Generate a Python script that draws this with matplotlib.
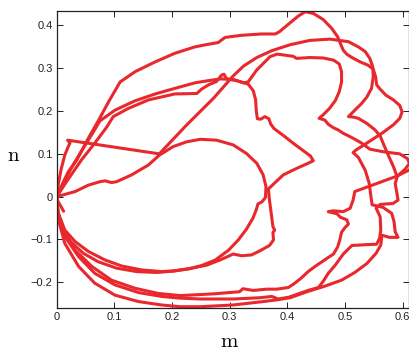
import matplotlib
matplotlib.use("Agg")
import matplotlib.pyplot as plt

# ---- data (m, n) ----
inner_m = [0, 0.032, 0.055, 0.075, 0.084, 0.095, 0.104, 0.130, 0.159, 0.178, 0.202, 0.225, 0.249, 0.277, 0.306,
           0.329, 0.347, 0.358, 0.363, 0.362, 0.356, 0.349, 0.346, 0.340, 0.329, 0.315, 0.298, 0.275, 0.251, 0.228,
           0.205, 0.182, 0.147, 0.113, 0.084, 0.055, 0.032, 0.014, 0.003, 0]
inner_n = [0, 0.012, 0.027, 0.035, 0.037, 0.033, 0.035, 0.051, 0.074, 0.097, 0.117, 0.128, 0.134, 0.132, 0.121,
           0.101, 0.078, 0.051, 0.023, -0.002, -0.012, -0.017, -0.031, -0.051, -0.076, -0.101, -0.125, -0.148, -0.161, -0.169,
           -0.173, -0.175, -0.171, -0.162, -0.148, -0.128, -0.105, -0.078, -0.039, -0.008]

loop_b_m = [0, 0.003, 0.008, 0.014, 0.020, 0.023, 0.019, 0.178, 0.225, 0.272, 0.306, 0.324, 0.347, 0.373, 0.405,
            0.439, 0.474, 0.506, 0.523, 0.535, 0.543, 0.548, 0.549, 0.546, 0.538, 0.529, 0.517, 0.506, 0.514, 0.523,
            0.538, 0.552, 0.561, 0.566, 0.575, 0.584, 0.590, 0.517, 0.514, 0.509, 0.497, 0.480, 0.471, 0.486, 0.492,
            0.503, 0.506, 0.500, 0.494, 0.491, 0.487, 0.480, 0.471, 0.460, 0.448, 0.436, 0.425, 0.413, 0.402, 0.382,
            0.364, 0.341, 0.323, 0.317, 0.272, 0.214, 0.176, 0.136, 0.095, 0.061, 0.032, 0.012, 0.001, 0]
loop_b_n = [0, 0.031, 0.066, 0.097, 0.117, 0.125, 0.132, 0.100, 0.167, 0.230, 0.282, 0.305, 0.325, 0.341, 0.355,
            0.365, 0.368, 0.362, 0.350, 0.339, 0.323, 0.304, 0.280, 0.253, 0.233, 0.218, 0.202, 0.187, 0.186, 0.183,
            0.171, 0.156, 0.142, 0.125, 0.097, 0.070, 0.048, 0.012, -0.008, -0.027, -0.035, -0.033, -0.035, -0.040, -0.048,
            -0.054, -0.064, -0.072, -0.083, -0.101, -0.118, -0.134, -0.142, -0.152, -0.163, -0.175, -0.189, -0.202, -0.212, -0.216,
            -0.216, -0.219, -0.215, -0.222, -0.227, -0.231, -0.226, -0.214, -0.195, -0.163, -0.125, -0.078, -0.031, 0]

loop_c_m = [0, 0.009, 0.020, 0.035, 0.053, 0.072, 0.091, 0.110, 0.136, 0.171, 0.205, 0.240, 0.263, 0.280, 0.292,
            0.321, 0.355, 0.379, 0.386, 0.402, 0.419, 0.431, 0.445, 0.462, 0.477, 0.487, 0.492, 0.497, 0.503, 0.512,
            0.526, 0.540, 0.549, 0.553, 0.555, 0.561, 0.571, 0.584, 0.595, 0.599, 0.595, 0.584, 0.566, 0.549, 0.532,
            0.519, 0.514, 0.523, 0.535, 0.542, 0.545, 0.547, 0.566, 0.581, 0.585, 0.587, 0.592, 0.577, 0.564, 0.562,
            0.554, 0.538, 0.517, 0.494, 0.465, 0.434, 0.405, 0.382, 0.358, 0.306, 0.249, 0.214, 0.182, 0.142, 0.101,
            0.066, 0.038, 0.014, 0.003, 0]
loop_c_n = [0, 0.027, 0.058, 0.086, 0.132, 0.177, 0.224, 0.268, 0.292, 0.315, 0.335, 0.350, 0.356, 0.360, 0.372,
            0.377, 0.380, 0.380, 0.385, 0.403, 0.422, 0.432, 0.428, 0.414, 0.393, 0.374, 0.358, 0.342, 0.333, 0.325,
            0.315, 0.307, 0.298, 0.280, 0.261, 0.251, 0.237, 0.226, 0.213, 0.198, 0.183, 0.168, 0.150, 0.135, 0.120,
            0.109, 0.103, 0.092, 0.062, 0.031, 0.000, -0.019, -0.025, -0.039, -0.058, -0.082, -0.095, -0.095, -0.090, -0.113,
            -0.132, -0.156, -0.177, -0.195, -0.209, -0.222, -0.236, -0.241, -0.245, -0.253, -0.257, -0.257, -0.253, -0.245, -0.230,
            -0.202, -0.163, -0.109, -0.054, 0]

loop_d_m = [0, 0.012, 0.025, 0.040, 0.058, 0.075, 0.101, 0.136, 0.171, 0.205, 0.240, 0.263, 0.283, 0.306, 0.324,
            0.332, 0.347, 0.370, 0.382, 0.410, 0.416, 0.439, 0.462, 0.480, 0.490, 0.494, 0.494, 0.490, 0.483, 0.473,
            0.462, 0.455, 0.465, 0.471, 0.480, 0.488, 0.497, 0.509, 0.520, 0.529, 0.543, 0.566, 0.595, 0.608, 0.612,
            0.604, 0.591, 0.587, 0.590, 0.592, 0.583, 0.561, 0.554, 0.561, 0.562, 0.560, 0.555, 0.538, 0.512, 0.497,
            0.483, 0.471, 0.462, 0.454, 0.436, 0.419, 0.402, 0.384, 0.373, 0.353, 0.306, 0.249, 0.214, 0.182, 0.142,
            0.101, 0.066, 0.038, 0.014, 0.001, 0]
loop_d_n = [0, 0.033, 0.066, 0.100, 0.139, 0.177, 0.202, 0.224, 0.240, 0.253, 0.266, 0.271, 0.275, 0.274, 0.266,
            0.268, 0.296, 0.327, 0.333, 0.328, 0.323, 0.325, 0.324, 0.319, 0.310, 0.292, 0.268, 0.245, 0.224, 0.206,
            0.191, 0.183, 0.179, 0.169, 0.161, 0.156, 0.148, 0.140, 0.132, 0.125, 0.111, 0.105, 0.100, 0.089, 0.078,
            0.064, 0.048, 0.031, 0.008, -0.008, -0.016, -0.018, -0.027, -0.047, -0.078, -0.097, -0.111, -0.112, -0.114, -0.134,
            -0.160, -0.179, -0.198, -0.212, -0.219, -0.227, -0.235, -0.239, -0.233, -0.236, -0.239, -0.239, -0.237, -0.233, -0.224,
            -0.206, -0.179, -0.140, -0.093, -0.039, 0]

loop_e_m = [0, 0.017, 0.043, 0.066, 0.087, 0.098, 0.124, 0.159, 0.205, 0.243, 0.251, 0.263, 0.277, 0.286, 0.290,
            0.295, 0.312, 0.332, 0.341, 0.345, 0.346, 0.348, 0.354, 0.361, 0.368, 0.371, 0.377, 0.393, 0.410, 0.428,
            0.440, 0.445, 0.436, 0.416, 0.393, 0.367, 0.369, 0.372, 0.375, 0.378, 0.375, 0.376, 0.369, 0.353, 0.338,
            0.321, 0.306, 0.298, 0.283, 0.260, 0.234, 0.202, 0.173, 0.139, 0.104, 0.072, 0.046, 0.024, 0.010, 0.002, 0]
loop_e_n = [0, 0.035, 0.086, 0.125, 0.163, 0.187, 0.206, 0.226, 0.240, 0.241, 0.251, 0.261, 0.269, 0.284, 0.286,
            0.275, 0.271, 0.263, 0.247, 0.226, 0.202, 0.182, 0.181, 0.187, 0.182, 0.170, 0.159, 0.143, 0.125, 0.107,
            0.095, 0.084, 0.078, 0.066, 0.051, 0.018, -0.008, -0.039, -0.070, -0.078, -0.084, -0.101, -0.114, -0.126, -0.136,
            -0.138, -0.134, -0.139, -0.148, -0.160, -0.167, -0.174, -0.177, -0.175, -0.167, -0.152, -0.132, -0.105, -0.074, -0.039, 0]

spur_m = [0.001, 0.012]
spur_n = [-0.008, -0.034]
edge_m = [0.590, 0.618]
edge_n = [0.048, 0.067]

segments = [(inner_m, inner_n), (loop_b_m, loop_b_n), (loop_c_m, loop_c_n),
            (loop_d_m, loop_d_n), (loop_e_m, loop_e_n), (spur_m, spur_n), (edge_m, edge_n)]

x_ticks = [0, 0.1, 0.2, 0.3, 0.4, 0.5, 0.6]
y_ticks = [-0.2, -0.1, 0, 0.1, 0.2, 0.3, 0.4]
x_ticklabels = ["0", "0.1", "0.2", "0.3", "0.4", "0.5", "0.6"]
y_ticklabels = ["\u22120.2", "\u22120.1", "0", "0.1", "0.2", "0.3", "0.4"]

plt.rcParams['mathtext.fontset'] = 'cm'
fig = plt.figure(figsize=(4.10, 3.53), dpi=100)
ax = fig.add_axes([0.1383, 0.1275, 0.860, 0.8405])

red = '#e8282d'
for mx, ny in segments:
    ax.plot(mx, ny, color=red, lw=2.2, solid_joinstyle='round', solid_capstyle='round')

ax.set_xlim(0, 0.6115)
ax.set_ylim(-0.26, 0.433)
ax.set_xticks(x_ticks)
ax.set_xticklabels(x_ticklabels)
ax.set_yticks(y_ticks)
ax.set_yticklabels(y_ticklabels)
ax.tick_params(direction='in', length=4, width=0.7, top=True, right=True,
               labelsize=8, pad=3, colors='#222222')
for lab in ax.get_xticklabels() + ax.get_yticklabels():
    lab.set_family('Liberation Sans')
for s in ax.spines.values():
    s.set_linewidth(0.9)
    s.set_color('#222222')

fig.text(230 / 410, 1 - 341 / 353, r'$\mathrm{m}$', fontsize=15, ha='center', va='center')
fig.text(14 / 410, 1 - 155 / 353, r'$\mathrm{n}$', fontsize=15, ha='center', va='center')

fig.savefig('out.png', dpi=100)
